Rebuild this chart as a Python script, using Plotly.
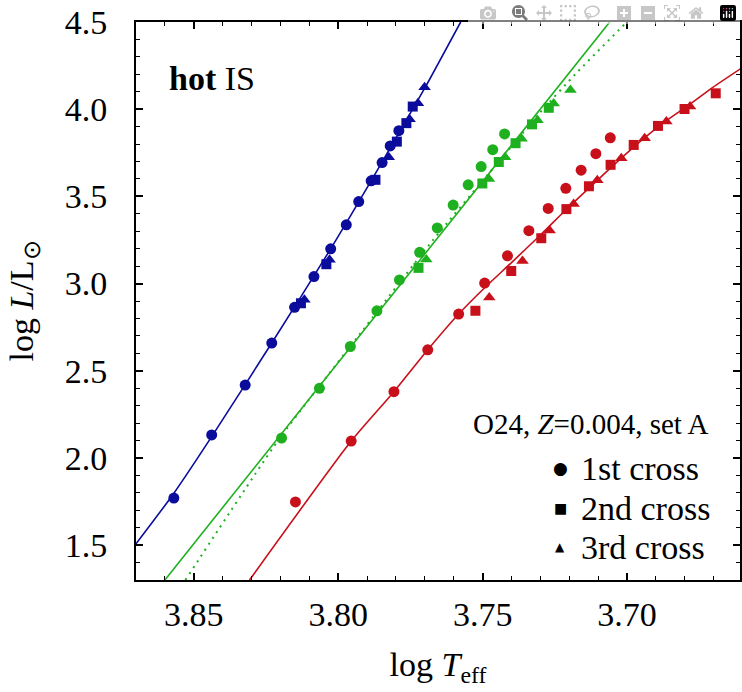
import plotly.graph_objects as go

# ---------------- data (log Teff, log L) ----------------
blue_c_x = [3.8569, 3.8438, 3.8322, 3.8230, 3.8151, 3.8084, 3.8026, 3.7972, 3.7929, 3.7886, 3.7848, 3.7820, 3.7790]
blue_c_y = [1.770, 2.132, 2.418, 2.659, 2.864, 3.040, 3.199, 3.337, 3.470, 3.589, 3.694, 3.789, 3.877]
blue_s_x = [3.8129, 3.8041, 3.7871, 3.7797, 3.7764, 3.7742]
blue_s_y = [2.887, 3.111, 3.595, 3.814, 3.920, 4.015]
blue_t_x = [3.8117, 3.8030, 3.7825, 3.7753, 3.7724, 3.7701]
blue_t_y = [2.907, 3.136, 3.725, 3.942, 4.034, 4.126]
blue_line_x = [3.8702, 3.8570, 3.8438, 3.8230, 3.8026, 3.7886, 3.7790, 3.7701, 3.7576]
blue_line_y = [1.503, 1.795, 2.122, 2.659, 3.199, 3.589, 3.864, 4.119, 4.500]

green_c_x = [3.8196, 3.8065, 3.7958, 3.7866, 3.7788, 3.7718, 3.7657, 3.7602, 3.7550, 3.7505, 3.7465, 3.7424]
green_c_y = [2.114, 2.399, 2.639, 2.844, 3.021, 3.179, 3.319, 3.450, 3.566, 3.671, 3.768, 3.858]
green_s_x = [3.7722, 3.7501, 3.7444, 3.7386, 3.7329, 3.7271]
green_s_y = [3.090, 3.574, 3.697, 3.805, 3.913, 4.008]
green_t_x = [3.7695, 3.7478, 3.7422, 3.7365, 3.7310, 3.7254, 3.7196]
green_t_y = [3.138, 3.599, 3.725, 3.831, 3.937, 4.032, 4.110]
green_line_x = [3.8600, 3.7060]
green_line_y = [1.300, 4.500]
green_dot_x = [3.8529, 3.8206, 3.7943, 3.7673, 3.7483, 3.7303, 3.7176, 3.7001]
green_dot_y = [1.300, 2.105, 2.672, 3.247, 3.623, 3.977, 4.206, 4.500]

red_c_x = [3.8148, 3.7955, 3.7807, 3.7690, 3.7583, 3.7493, 3.7414, 3.7340, 3.7273, 3.7212, 3.7159, 3.7108, 3.7058]
red_c_y = [1.748, 2.097, 2.380, 2.620, 2.825, 3.003, 3.159, 3.303, 3.431, 3.546, 3.650, 3.745, 3.836]
red_s_x = [3.7525, 3.7401, 3.7297, 3.7210, 3.7132, 3.7057, 3.6977, 3.6893, 3.6801, 3.6693]
red_s_y = [2.844, 3.072, 3.260, 3.427, 3.558, 3.681, 3.795, 3.904, 4.001, 4.091]
red_t_x = [3.7477, 3.7362, 3.7268, 3.7185, 3.7103, 3.7020, 3.6939, 3.6864, 3.6782]
red_t_y = [2.920, 3.130, 3.305, 3.456, 3.592, 3.718, 3.834, 3.929, 4.015]
red_line_x = [3.8307, 3.7955, 3.7807, 3.7690, 3.7583, 3.7493, 3.7401, 3.7297, 3.7208, 3.7101, 3.7020, 3.6945, 3.6864, 3.6783, 3.6703, 3.6604]
red_line_y = [1.300, 2.097, 2.380, 2.620, 2.825, 2.976, 3.119, 3.283, 3.429, 3.595, 3.719, 3.828, 3.934, 4.027, 4.125, 4.235]

x_ticks = [3.85, 3.80, 3.75, 3.70]
x_ticklabels = ["3.85", "3.80", "3.75", "3.70"]
y_ticks = [1.5, 2.0, 2.5, 3.0, 3.5, 4.0, 4.5]
y_ticklabels = ["1.5", "2.0", "2.5", "3.0", "3.5", "4.0", "4.5"]

legend_labels = ["1st cross", "2nd cross", "3rd cross"]
legend_glyphs = ["●", "■", "▲"]

BLUE = "#0b0b9c"
GREEN = "#1fb01f"
RED = "#c8101a"
FONT = "Liberation Serif"

fig = go.Figure()

fig.add_trace(go.Scatter(x=blue_line_x, y=blue_line_y, mode="lines",
                         line=dict(color=BLUE, width=1.6, shape="spline", smoothing=0.6),
                         showlegend=False, hoverinfo="skip"))
fig.add_trace(go.Scatter(x=green_line_x, y=green_line_y, mode="lines",
                         line=dict(color=GREEN, width=1.6), showlegend=False, hoverinfo="skip"))
fig.add_trace(go.Scatter(x=green_dot_x, y=green_dot_y, mode="lines",
                         line=dict(color=GREEN, width=2, dash="2px,5px", shape="spline", smoothing=0.6),
                         showlegend=False, hoverinfo="skip"))
fig.add_trace(go.Scatter(x=red_line_x, y=red_line_y, mode="lines",
                         line=dict(color=RED, width=1.6, shape="spline", smoothing=0.6),
                         showlegend=False, hoverinfo="skip"))

def pts(x, y, color, symbol, size):
    fig.add_trace(go.Scatter(x=x, y=y, mode="markers",
                             marker=dict(color=color, symbol=symbol, size=size, line=dict(width=0)),
                             showlegend=False))

for col, (cx, cy, sx, sy, tx, ty) in [
    (BLUE, (blue_c_x, blue_c_y, blue_s_x, blue_s_y, blue_t_x, blue_t_y)),
    (GREEN, (green_c_x, green_c_y, green_s_x, green_s_y, green_t_x, green_t_y)),
    (RED, (red_c_x, red_c_y, red_s_x, red_s_y, red_t_x, red_t_y)),
]:
    pts(tx, ty, col, "triangle-up", 11)
    pts(sx, sy, col, "square", 10)
    pts(cx, cy, col, "circle", 11)

fig.update_xaxes(
    range=[3.87, 3.6609], tickvals=x_ticks, ticktext=x_ticklabels,
    showline=True, linecolor="black", linewidth=2, mirror="ticks",
    ticks="inside", ticklen=7, tickwidth=1.5, tickcolor="black",
    minor=dict(dtick=0.01, tick0=3.70, ticks="inside", ticklen=4, tickwidth=1.2, tickcolor="black"),
    showgrid=False, zeroline=False,
    tickfont=dict(family=FONT, size=34, color="black"),
    ticklabelstandoff=3,
    title=dict(text="log <i>T</i><sub>eff</sub>", font=dict(family=FONT, size=34, color="black"), standoff=20),
)
fig.update_yaxes(
    range=[1.3, 4.5], tickvals=y_ticks, ticktext=y_ticklabels,
    showline=True, linecolor="black", linewidth=2, mirror="ticks",
    ticks="inside", ticklen=7, tickwidth=1.5, tickcolor="black",
    minor=dict(dtick=0.1, tick0=1.5, ticks="inside", ticklen=4, tickwidth=1.2, tickcolor="black"),
    showgrid=False, zeroline=False,
    tickfont=dict(family=FONT, size=34, color="black"),
    ticklabelstandoff=20,
    title=dict(text="log <i>L</i>/L<sub>⊙</sub>", font=dict(family=FONT, size=34, color="black"), standoff=21),
)

annotations = [
    dict(x=0.051, y=0.898, xref="paper", yref="paper", xanchor="left", yanchor="middle",
         text="<b>hot</b> IS", showarrow=False, font=dict(family=FONT, size=34, color="black")),
    dict(x=0.952, y=0.2796, xref="paper", yref="paper", xanchor="right", yanchor="middle",
         text="O24, <i>Z</i>=0.004, set A", showarrow=False, font=dict(family=FONT, size=29, color="black")),
]
legend_y = [0.2007, 0.129, 0.0591]
glyph_sizes = [17, 14, 12]
for sym, ssize, label, yy in zip(legend_glyphs, glyph_sizes, legend_labels, legend_y):
    annotations.append(dict(x=0.7025, y=yy, xref="paper", yref="paper", xanchor="center", yanchor="middle",
                            text=sym, showarrow=False, font=dict(family="DejaVu Sans", size=ssize, color="black")))
    annotations.append(dict(x=0.7339, y=yy, xref="paper", yref="paper", xanchor="left", yanchor="middle",
                            text=label, showarrow=False, font=dict(family=FONT, size=34, color="black")))

fig.update_layout(
    width=742, height=692,
    margin=dict(l=136, r=2, t=22, b=112, autoexpand=False),
    paper_bgcolor="white", plot_bgcolor="white",
    showlegend=False,
    annotations=annotations,
    font=dict(family=FONT, color="black"),
)

# remove the browser's default 8px page margin so the figure sits at (0,0)
fig.write_html("out.html",
               post_script="document.body.style.margin='0';document.body.style.overflow='hidden';")
